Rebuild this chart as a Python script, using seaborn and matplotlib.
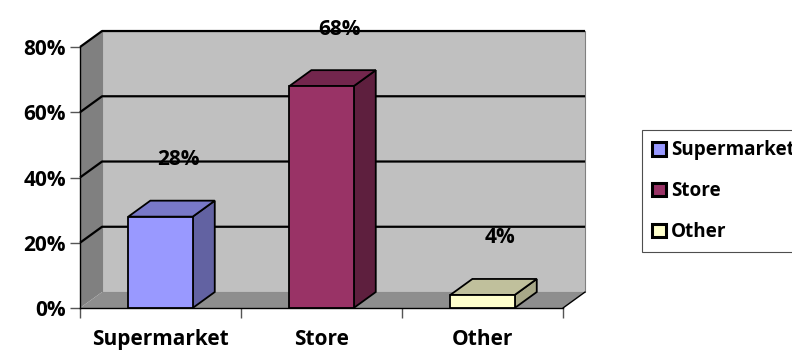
import matplotlib
matplotlib.use("Agg")
import matplotlib.pyplot as plt
import seaborn as sns
import pandas as pd
from matplotlib.patches import Polygon, Patch

# Data
categories = ["Supermarket", "Store", "Other"]
shares = [0.28, 0.68, 0.04]
value_labels = ["28%", "68%", "4%"]
y_ticks = [0.0, 0.2, 0.4, 0.6, 0.8]
y_tick_labels = ["0%", "20%", "40%", "60%", "80%"]

# Face colours: front, top and right side of each 3-D column
front_colors = ["#9999ff", "#993366", "#ffffcc"]
top_colors = ["#7878c8", "#73264d", "#c0c09c"]
side_colors = ["#6262a2", "#5e1f3e", "#a8a888"]

sns.set_style("white")
plt.rcParams["font.family"] = ["Open Sans", "DejaVu Sans"]
plt.rcParams["font.weight"] = "bold"
plt.rcParams["text.color"] = "black"
plt.rcParams["xtick.labelcolor"] = "black"
plt.rcParams["ytick.labelcolor"] = "black"

FS = 15

fig = plt.figure(figsize=(7.92, 3.52), dpi=100)
ax = fig.add_axes([80 / 792, 44 / 352, 483 / 792, 261 / 352])

df = pd.DataFrame({"channel": categories, "share": shares})
sns.barplot(data=df, x="channel", y="share", hue="channel",
            palette=front_colors, width=0.4, saturation=1,
            edgecolor="black", linewidth=1.3, legend=False,
            ax=ax, zorder=3)
bars = list(ax.patches)

ax.set_xlim(-0.5, 2.5)
ax.set_ylim(0, 0.8)

# Depth of the 3-D box in data units
dx = 0.137
dy = 0.049
x0, x1 = -0.5, 2.5
ytop = y_ticks[-1]

# Back wall, side wall and floor
ax.add_patch(Polygon([(x0 + dx, dy), (x1 + dx, dy), (x1 + dx, ytop + dy), (x0 + dx, ytop + dy)],
                     closed=True, fc="#c0c0c0", ec="#808080", lw=0.8, zorder=0.1, clip_on=False))
ax.add_patch(Polygon([(x0, 0), (x0, ytop), (x0 + dx, ytop + dy), (x0 + dx, dy)],
                     closed=True, fc="#808080", ec="none", zorder=0.2, clip_on=False))
ax.add_patch(Polygon([(x0, 0), (x1, 0), (x1 + dx, dy), (x0 + dx, dy)],
                     closed=True, fc="#8e8e8e", ec="none", zorder=0.2, clip_on=False))
ax.plot([x1, x1 + dx], [0, dy], color="black", lw=1, zorder=0.6, clip_on=False)

# Gridlines on the side and back walls
for v in y_ticks[1:]:
    ax.plot([x0, x0 + dx, x1 + dx], [v, v + dy, v + dy], color="black", lw=1.6,
            zorder=0.5, clip_on=False, solid_capstyle="butt")

# Top and side faces of each column, built from the drawn bars
for patch, top_c, side_c in zip(bars, top_colors, side_colors):
    bx0 = patch.get_x()
    bx1 = bx0 + patch.get_width()
    h = patch.get_height()
    ax.add_patch(Polygon([(bx1, 0), (bx1 + dx, dy), (bx1 + dx, h + dy), (bx1, h)],
                         closed=True, fc=side_c, ec="black", lw=1.3, zorder=2.5, clip_on=False))
    ax.add_patch(Polygon([(bx0, h), (bx1, h), (bx1 + dx, h + dy), (bx0 + dx, h + dy)],
                         closed=True, fc=top_c, ec="black", lw=1.3, zorder=2.5, clip_on=False))

# Value labels
for i, (v, lab) in enumerate(zip(shares, value_labels)):
    ax.text(i + 0.11, v + 0.175, lab, ha="center", va="center",
            fontsize=FS, fontweight="bold", clip_on=False, zorder=5)

# Axes, ticks and labels
for side in ["top", "right"]:
    ax.spines[side].set_visible(False)
for side in ["left", "bottom"]:
    ax.spines[side].set_color("black")
    ax.spines[side].set_linewidth(1)
    ax.spines[side].set_zorder(0.7)

ax.set_yticks(y_ticks, y_tick_labels)
ax.set_xticks(range(len(categories)), categories)
ax.set_xticks([x0 + k for k in range(len(categories) + 1)], minor=True)
ax.tick_params(axis="y", length=7, width=1, color="#555555", direction="out",
               labelsize=FS, pad=3, left=True)
ax.tick_params(axis="x", which="major", length=0, labelsize=FS, pad=15)
ax.tick_params(axis="x", which="minor", length=7, width=1, color="#555555", bottom=True)
for t in ax.get_xticklabels() + ax.get_yticklabels():
    t.set_fontweight("bold")
ax.set_xlabel("")
ax.set_ylabel("")
ax.set_facecolor("none")

# Legend
handles = [Patch(facecolor=c, edgecolor="black", linewidth=2.2, label=cat)
           for c, cat in zip(front_colors, categories)]
leg = fig.legend(handles=handles, loc="upper left",
                 bbox_to_anchor=(642 / 792, 1 - 130 / 352),
                 frameon=True, fancybox=False, edgecolor="#222222",
                 handlelength=0.72, handleheight=0.72, handletextpad=0.25,
                 labelspacing=1.1, borderpad=0.55, borderaxespad=0,
                 prop={"weight": "bold", "size": 13.6})
leg.get_frame().set_linewidth(0.8)

fig.savefig("out.png", dpi=100)
